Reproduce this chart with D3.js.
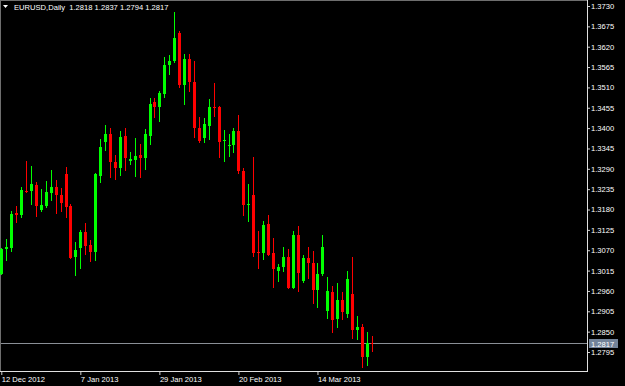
<!DOCTYPE html>
<html>
<head>
<meta charset="utf-8">
<script src="https://cdn.jsdelivr.net/npm/d3@7"></script>
<style>
  html, body { margin: 0; padding: 0; background: #000; }
  svg { display: block; }
  text { font-family: "Liberation Sans", Arial, sans-serif; font-size: 7.6px; fill: #fff; }
</style>
</head>
<body>
<div id="chart"></div>
<script>
const width = 625,
    height = 386;

// EURUSD daily, 12 Dec 2012 .. 29 Mar 2013
const opens = [1.3006, 1.3073, 1.3076, 1.3171, 1.3165, 1.3230, 1.3230, 1.3246, 1.3179, 1.3190,
    1.3225, 1.3241, 1.3219, 1.3276, 1.3190, 1.3052, 1.3076, 1.3119, 1.3084, 1.3065,
    1.3271, 1.3363, 1.3384, 1.3308, 1.3292, 1.3379, 1.3311, 1.3314, 1.3327, 1.3319,
    1.3379, 1.3471, 1.3457, 1.3492, 1.3571, 1.3581, 1.3657, 1.3517, 1.3587, 1.3525,
    1.3400, 1.3373, 1.3406, 1.3457, 1.3457, 1.3365, 1.3352, 1.3354, 1.3392, 1.3284,
    1.3192, 1.3219, 1.3065, 1.3063, 1.3141, 1.3063, 1.3014, 1.3025, 1.3052, 1.2968,
    1.3111, 1.2987, 1.3049, 1.3036, 1.2963, 1.3006, 1.2906, 1.2957, 1.2884, 1.2936,
    1.2898, 1.2952, 1.2855, 1.2863, 1.2782, 1.2818];
const highs = [1.3076, 1.3100, 1.3176, 1.3190, 1.3241, 1.3311, 1.3298, 1.3254, 1.3235, 1.3257,
    1.3287, 1.3260, 1.3238, 1.3295, 1.3195, 1.3092, 1.3125, 1.3144, 1.3098, 1.3278,
    1.3371, 1.3408, 1.3400, 1.3327, 1.3392, 1.3400, 1.3336, 1.3373, 1.3357, 1.3398,
    1.3481, 1.3481, 1.3500, 1.3592, 1.3598, 1.3714, 1.3662, 1.3600, 1.3600, 1.3581,
    1.3430, 1.3427, 1.3479, 1.3522, 1.3460, 1.3395, 1.3384, 1.3400, 1.3436, 1.3292,
    1.3249, 1.3322, 1.3122, 1.3149, 1.3165, 1.3103, 1.3033, 1.3079, 1.3073, 1.3122,
    1.3136, 1.3057, 1.3079, 1.3068, 1.3036, 1.3111, 1.2998, 1.2973, 1.2982, 1.2957,
    1.3014, 1.3052, 1.2892, 1.2871, 1.2849, 1.2837];
const lows = [1.3003, 1.3041, 1.3065, 1.3144, 1.3157, 1.3225, 1.3192, 1.3160, 1.3173, 1.3184,
    1.3203, 1.3168, 1.3173, 1.3157, 1.3046, 1.3000, 1.3019, 1.3057, 1.3038, 1.3041,
    1.3252, 1.3338, 1.3265, 1.3260, 1.3271, 1.3284, 1.3300, 1.3268, 1.3265, 1.3287,
    1.3354, 1.3427, 1.3417, 1.3481, 1.3544, 1.3576, 1.3508, 1.3463, 1.3498, 1.3373,
    1.3360, 1.3360, 1.3368, 1.3430, 1.3319, 1.3308, 1.3322, 1.3333, 1.3276, 1.3163,
    1.3146, 1.3052, 1.3019, 1.3044, 1.3055, 1.2968, 1.2984, 1.3011, 1.2965, 1.2966,
    1.2957, 1.2982, 1.2992, 1.2925, 1.2914, 1.3000, 1.2884, 1.2847, 1.2860, 1.2882,
    1.2887, 1.2830, 1.2828, 1.2752, 1.2757, 1.2794];
const closes = [1.3073, 1.3079, 1.3168, 1.3165, 1.3233, 1.3227, 1.3249, 1.3190, 1.3192, 1.3227,
    1.3241, 1.3219, 1.3198, 1.3187, 1.3049, 1.3071, 1.3119, 1.3082, 1.3065, 1.3276,
    1.3349, 1.3384, 1.3308, 1.3292, 1.3376, 1.3319, 1.3317, 1.3325, 1.3319, 1.3384,
    1.3465, 1.3457, 1.3495, 1.3571, 1.3581, 1.3644, 1.3517, 1.3587, 1.3525, 1.3400,
    1.3365, 1.3411, 1.3457, 1.3454, 1.3363, 1.3368, 1.3354, 1.3392, 1.3284, 1.3192,
    1.3195, 1.3063, 1.3063, 1.3138, 1.3057, 1.3019, 1.3025, 1.3052, 1.2968, 1.3111,
    1.3009, 1.3049, 1.3036, 1.2963, 1.3006, 1.3079, 1.2960, 1.2882, 1.2936, 1.2903,
    1.2992, 1.2855, 1.2863, 1.2782, 1.2819, 1.2817];

// axis labels
const priceTicks = [1.3730, 1.3675, 1.3620, 1.3565, 1.3510, 1.3455, 1.3400, 1.3345, 1.3290,
    1.3235, 1.3180, 1.3125, 1.3070, 1.3015, 1.2960, 1.2905, 1.2850, 1.2795];
const dateTickIdx = [0, 16, 32, 48, 64];
const dateTickLabels = ['12 Dec 2012', '7 Jan 2013', '29 Jan 2013', '20 Feb 2013', '14 Mar 2013'];

const symbol = 'EURUSD,Daily';
const bidPrice = 1.2817;

const svg = d3.select('#chart')
    .append('svg')
    .attr('width', width)
    .attr('height', height);

svg.append('rect')
    .attr('width', width)
    .attr('height', height)
    .attr('fill', '#000');

const plotRight = 587,
    plotBottom = 371;

// bar index -> x
const x = d3.scaleLinear()
    .domain([0, 75])
    .range([1.3, 1.3 + 75 * 4.94]);

// price -> y
const y = d3.scaleLinear()
    .domain([1.2795, 1.3730])
    .range([352, 6]);

const data = opens.map(function(o, i) {
    return { i: i, o: o, h: highs[i], l: lows[i], c: closes[i] };
});

// frame
svg.append('line')
    .attr('x1', 0.5).attr('x2', 0.5).attr('y1', 0).attr('y2', plotBottom)
    .attr('stroke', '#6e6e6e').attr('shape-rendering', 'crispEdges');
svg.append('line')
    .attr('x1', 0).attr('x2', plotRight).attr('y1', 0.5).attr('y2', 0.5)
    .attr('stroke', '#6e6e6e').attr('shape-rendering', 'crispEdges');

// bid line
svg.append('line')
    .attr('x1', 1).attr('x2', plotRight)
    .attr('y1', Math.round(y(bidPrice)) - 0.5).attr('y2', Math.round(y(bidPrice)) - 0.5)
    .attr('stroke', '#8a8f96')
    .attr('shape-rendering', 'crispEdges');

// candles
const group = svg.append('g');
const color = function(d) { return d.c >= d.o ? '#00ff00' : '#ff0000'; };

group.selectAll('line.wick')
    .data(data)
    .enter()
    .append('line')
    .attr('class', 'wick')
    .attr('x1', function(d) { return Math.round(x(d.i)) + 0.5; })
    .attr('x2', function(d) { return Math.round(x(d.i)) + 0.5; })
    .attr('y1', function(d) { return Math.round(y(d.h)); })
    .attr('y2', function(d) { return Math.round(y(d.l)); })
    .attr('stroke', color)
    .attr('shape-rendering', 'crispEdges');

group.selectAll('rect.body')
    .data(data)
    .enter()
    .append('rect')
    .attr('class', 'body')
    .attr('x', function(d) { return Math.round(x(d.i)) - 1; })
    .attr('y', function(d) { return Math.round(y(Math.max(d.o, d.c))); })
    .attr('width', function(d, i) { return i === data.length - 1 ? 1 : 3; })
    .attr('height', function(d) {
        return Math.max(1, Math.round(y(Math.min(d.o, d.c))) - Math.round(y(Math.max(d.o, d.c))));
    })
    .attr('fill', color)
    .attr('shape-rendering', 'crispEdges');

// price axis on the right
const yAxis = d3.axisRight(y)
    .tickValues(priceTicks)
    .tickFormat(d3.format('.4f'))
    .tickSize(3)
    .tickSizeOuter(0)
    .tickPadding(1);

const yg = svg.append('g')
    .attr('transform', 'translate(' + plotRight + ',0)')
    .call(yAxis);
yg.select('.domain').remove();
yg.selectAll('line').attr('stroke', '#d0d0d0');
yg.selectAll('text').attr('fill', '#fff').attr('font-size', '7.6px').attr('font-family', null);

// time axis at the bottom
const xAxis = d3.axisBottom(x)
    .tickValues(dateTickIdx)
    .tickFormat(function(d, i) { return dateTickLabels[i]; })
    .tickSize(4)
    .tickSizeOuter(0);

const xg = svg.append('g')
    .attr('transform', 'translate(0,' + plotBottom + ')')
    .call(xAxis);
xg.select('.domain').remove();
xg.selectAll('line').attr('stroke', '#d0d0d0');
xg.selectAll('text')
    .attr('fill', '#fff')
    .attr('font-size', '7.6px')
    .attr('font-family', null)
    .attr('text-anchor', 'start')
    .attr('x', 0)
    .attr('y', 4)
    .attr('dy', '0.9em');

// axis lines
svg.append('line')
    .attr('x1', plotRight + 0.5).attr('x2', plotRight + 0.5).attr('y1', 0).attr('y2', plotBottom + 1)
    .attr('stroke', '#e0e0e0').attr('shape-rendering', 'crispEdges');
svg.append('line')
    .attr('x1', 0).attr('x2', plotRight + 1).attr('y1', plotBottom + 0.5).attr('y2', plotBottom + 0.5)
    .attr('stroke', '#e0e0e0').attr('shape-rendering', 'crispEdges');

// bid label
const bidY = Math.round(y(bidPrice));
svg.append('rect')
    .attr('x', plotRight + 2).attr('y', bidY - 5)
    .attr('width', 29).attr('height', 9)
    .attr('fill', '#738399');
svg.append('text')
    .attr('x', plotRight + 4).attr('y', bidY + 2.5)
    .attr('fill', '#e8e8e8')
    .text(d3.format('.4f')(bidPrice));

// header
svg.append('path')
    .attr('d', 'M3,5 L8,5 L5.5,8 Z')
    .attr('fill', '#fff');
const last = data[data.length - 1];
svg.append('text')
    .attr('x', 14).attr('y', 10)
    .attr('xml:space', 'preserve')
    .text(symbol + '  ' + [last.o, last.h, last.l, last.c].map(d3.format('.4f')).join(' '));
</script>
</body>
</html>
